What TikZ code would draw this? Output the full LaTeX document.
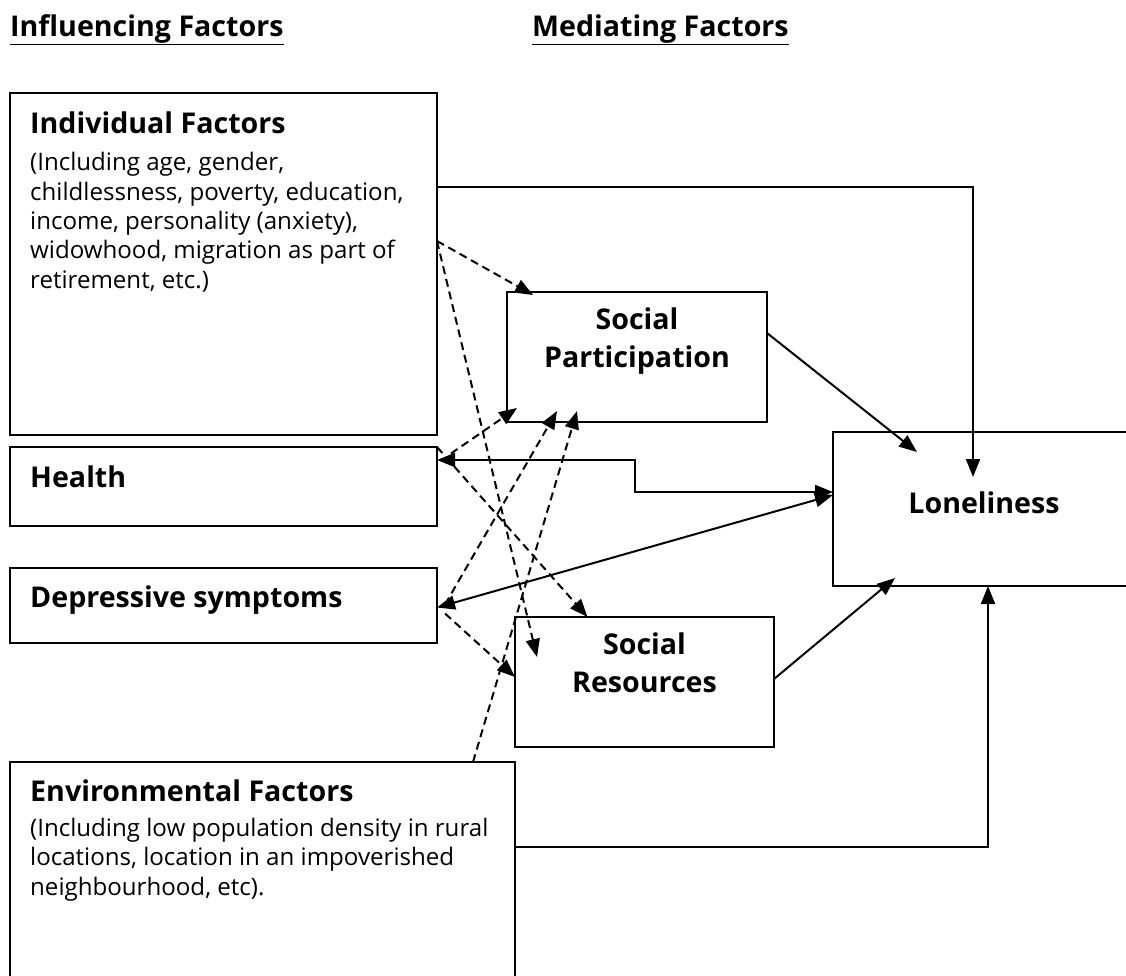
\documentclass[tikz,border=0pt]{standalone}
\usepackage{fontspec}
\setmainfont{Open Sans}
\usetikzlibrary{positioning, arrows.meta, calc}

\begin{document}
\begin{tikzpicture}[
    x=1pt, y=-1pt,
    % Styles
    box/.style={draw, line width=2.2pt, inner sep=0pt, outer sep=0pt, anchor=north west},
    box_title/.style={font=\fontsize{28.6}{34}\selectfont\bfseries, anchor=base west, inner sep=0pt},
    box_text/.style={font=\fontsize{24.1}{29.3}\selectfont, align=left, anchor=base west, inner sep=0pt},
    mid_title/.style={font=\fontsize{28.6}{38}\selectfont\bfseries, align=center, anchor=base, inner sep=0pt},
    col_head/.style={font=\fontsize{28.6}{34}\selectfont\bfseries, anchor=base west, inner sep=0pt},
    arrow/.style={-{Triangle[length=18pt, width=14pt]}, line width=2pt},
    both/.style={{Triangle[length=18pt, width=14pt]}-{Triangle[length=18pt, width=14pt]}, line width=2pt},
    dash_arrow/.style={arrow, dash pattern=on 8pt off 5pt}
]
    \useasboundingbox (0,0) rectangle (1126,975);

    % --- Column headings ---
    \node[col_head] (head_inf) at (10,36) {\underline{Influencing Factors}};
    \node[col_head] (head_med) at (532,36) {\underline{Mediating Factors}};

    % --- Influencing factors ---
    \node[box, minimum width=427pt, minimum height=342pt] (ind) at (10,93) {};
    \node[box_title] (ind_t) at ([xshift=20pt, yshift=-40pt]ind.north west) {Individual Factors};
    % base of a multi-line node = its last line
    \node[box_text] (ind_d) at ([xshift=20pt, yshift=-195pt]ind.north west)
        {(Including age, gender,\\childlessness, poverty, education,\\income, personality (anxiety),\\widowhood, migration as part of\\retirement, etc.)};

    \node[box, minimum width=427pt, minimum height=79pt] (hlt) at (10,447) {};
    \node[box_title] (hlt_t) at ([xshift=20pt, yshift=-40pt]hlt.north west) {Health};

    \node[box, minimum width=427pt, minimum height=75pt] (dep) at (10,568) {};
    \node[box_title] (dep_t) at ([xshift=20pt, yshift=-39pt]dep.north west) {Depressive symptoms};

    \node[box, minimum width=505pt, minimum height=230pt] (env) at (10,762) {};
    \node[box_title] (env_t) at ([xshift=20pt, yshift=-39pt]env.north west) {Environmental Factors};
    \node[box_text] (env_d) at ([xshift=20pt, yshift=-133pt]env.north west)
        {(Including low population density in rural\\locations, location in an impoverished\\neighbourhood, etc).};

    % --- Mediating factors ---
    \node[box, minimum width=260pt, minimum height=130pt] (sp) at (507,292) {};
    \node[mid_title] (sp_t) at ([yshift=-75pt]sp.north) {Social\\Participation};

    \node[box, minimum width=259pt, minimum height=130pt] (sr) at (515,617) {};
    \node[mid_title] (sr_t) at ([yshift=-75pt]sr.north) {Social\\Resources};

    % --- Outcome ---
    \node[box, minimum width=302pt, minimum height=154pt] (lon) at (833,432) {};
    \node[mid_title] (lon_t) at ([yshift=-81pt]lon.north) {Loneliness};

    % docking points inside the boxes
    \coordinate (lon_a) at (973,477);
    \coordinate (lon_b) at (917,452);
    \coordinate (lon_c) at (895,578);
    \coordinate (sp_a) at (533,295);
    \coordinate (sp_b) at (517,408);
    \coordinate (sp_c) at (557,411);
    \coordinate (sp_d) at (577,411);
    \coordinate (sr_a) at (537,657);

    % --- Solid arrows ---
    \draw[arrow] ([yshift=77pt]ind.east) -| (lon_a);
    \draw[arrow] ([yshift=24pt]sp.east) -- (lon_b);
    \draw[both] ([yshift=26.5pt]hlt.east) -- ++(198,0) |- ([yshift=17pt]lon.west);
    \draw[both] ([yshift=-2pt]dep.east) -- ([yshift=14pt]lon.west);
    \draw[arrow] ([yshift=3pt]sr.east) -- (lon_c);
    \draw[arrow] ([yshift=30pt]env.east) -| ([xshift=4pt]lon.south);

    % --- Dashed arrows ---
    \draw[dash_arrow] ([yshift=23pt]ind.east) -- (sp_a);
    \draw[dash_arrow] ([yshift=23pt]ind.east) -- (sr_a);
    \draw[dash_arrow] (hlt.north east) -- ([xshift=-57pt]sr.north);
    \draw[dash_arrow] ([xshift=14pt, yshift=33pt]hlt.east) -- (sp_b);
    \draw[dash_arrow] ([xshift=8pt, yshift=1pt]dep.east) -- (sp_c);
    \draw[dash_arrow] ([xshift=-42pt]env.north east) -- (sp_d);
    \draw[dash_arrow] ([xshift=8pt, yshift=-8pt]dep.east) -- ([yshift=5pt]sr.west);

\end{tikzpicture}
\end{document}
